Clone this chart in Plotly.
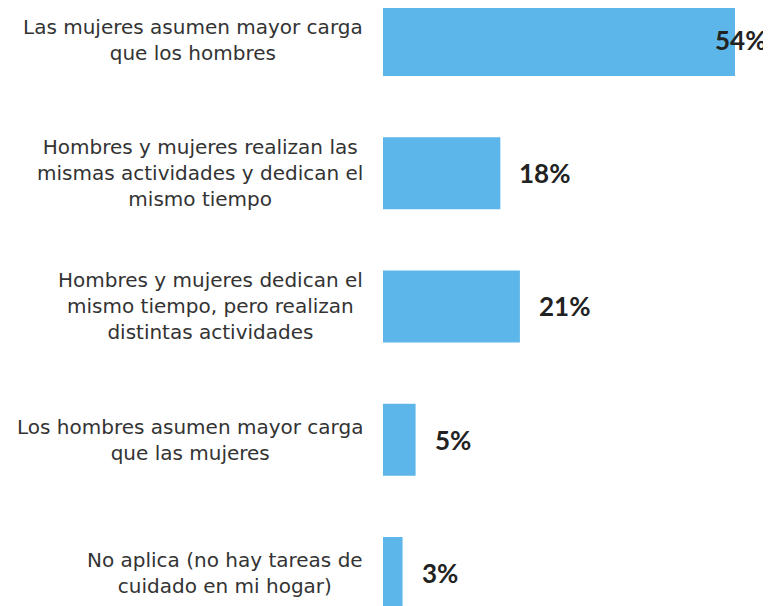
import plotly.graph_objects as go

categories = [
    "Las mujeres asumen mayor carga<br>que los hombres",
    "Hombres y mujeres realizan las<br>mismas actividades y dedican el<br>mismo tiempo",
    "Hombres y mujeres dedican el<br>mismo tiempo, pero realizan<br>distintas actividades",
    "Los hombres asumen mayor carga<br>que las mujeres",
    "No aplica (no hay tareas de<br>cuidado en mi hogar)",
]
values = [54, 18, 21, 5, 3]
value_labels = ["54%", "18%", "21%", "5%", "3%"]

bar_color = "#5CB6E9"
text_color = "#222222"
label_font = "DejaVu Sans, sans-serif"
value_font = "Lato, sans-serif"

fig = go.Figure(go.Bar(x=values, y=categories, orientation="h",
                       marker=dict(color=bar_color, line=dict(width=0)),
                       hoverinfo="skip"))

# category labels, lines centred, to the left of the bars
for cat in categories:
    fig.add_annotation(x=0, y=cat, xref="paper", yref="y",
                       text=cat, showarrow=False,
                       xanchor="right", yanchor="middle", align="center",
                       xshift=-18,
                       font=dict(family=label_font, size=20, color="#333333"))

# value labels just past each bar end (the longest one overlaps its bar)
top = max(values)
for v, lab, cat in zip(values, value_labels, categories):
    if v == top:
        anchor, shift = "right", 33
    else:
        anchor, shift = "left", 17
    fig.add_annotation(x=v, y=cat, xref="x", yref="y",
                       text="<b>" + lab + "</b>", showarrow=False,
                       xanchor=anchor, yanchor="middle", xshift=shift,
                       font=dict(family=value_font, size=26, color=text_color))

# page body adds an 8px offset, so the figure is sized to fit the window
fig.update_layout(width=763, height=598,
                  margin=dict(l=375, r=36, t=0, b=0),
                  paper_bgcolor="white", plot_bgcolor="white",
                  bargap=0.46, showlegend=False)
fig.update_xaxes(range=[0, 54], visible=False)
fig.update_yaxes(categoryorder="array", categoryarray=categories,
                 range=[4.248, -0.240], showticklabels=False,
                 showgrid=False, zeroline=False, showline=False, ticks="")

fig.write_html("out.html")
